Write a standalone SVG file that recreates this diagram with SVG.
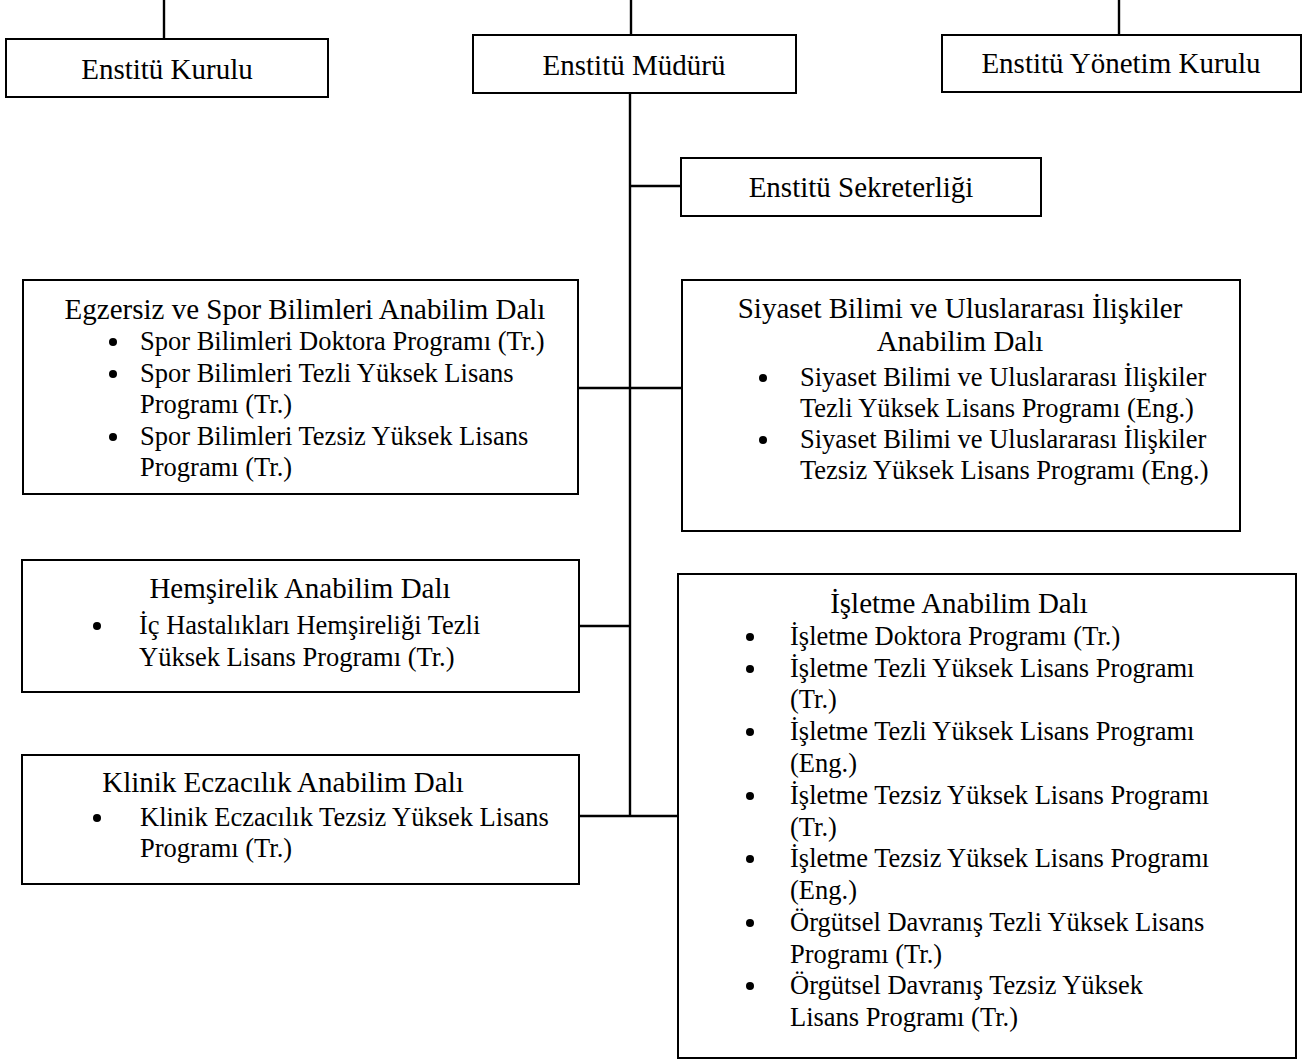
<svg xmlns="http://www.w3.org/2000/svg" width="1308" height="1062" viewBox="0 0 1308 1062">
<style>
.box{fill:#fff;stroke:#000;stroke-width:2}
.c line{stroke:#000;stroke-width:2.4}
text{font-family:"Liberation Serif","Times New Roman",serif;fill:#000}
.h{font-size:29px}
.b{font-size:26.5px}
.m{text-anchor:middle}
circle{fill:#000}
</style>
<rect width="1308" height="1062" fill="#fff"/>
<g class="c" id="connectors">
<line x1="164" y1="0" x2="164" y2="39"/>
<line x1="631" y1="0" x2="631" y2="35"/>
<line x1="1119" y1="0" x2="1119" y2="35"/>
<line x1="630" y1="93" x2="630" y2="816"/>
<line x1="630" y1="186" x2="681" y2="186"/>
<line x1="578" y1="388" x2="682" y2="388"/>
<line x1="579" y1="626" x2="630" y2="626"/>
<line x1="579" y1="816" x2="678" y2="816"/>
</g>
<g id="kurulu">
<rect class="box" x="6" y="39" width="322" height="58"/>
<text class="h m" x="167" y="79">Enstitü Kurulu</text>
</g>
<g id="mudur">
<rect class="box" x="473" y="35" width="323" height="58"/>
<text class="h m" x="634" y="75">Enstitü Müdürü</text>
</g>
<g id="yonetim">
<rect class="box" x="942" y="35" width="359" height="57"/>
<text class="h m" x="1121" y="73">Enstitü Yönetim Kurulu</text>
</g>
<g id="sekreterlik">
<rect class="box" x="681" y="158" width="360" height="58"/>
<text class="h m" x="861" y="197">Enstitü Sekreterliği</text>
</g>
<g id="egzersiz">
<rect class="box" x="23" y="280" width="555" height="214"/>
<text class="h m" x="305" y="319">Egzersiz ve Spor Bilimleri Anabilim Dalı</text>
<circle cx="113" cy="342" r="4"/><circle cx="113" cy="374" r="4"/><circle cx="113" cy="437" r="4"/>
<text class="b" x="140" y="350">Spor Bilimleri Doktora Programı (Tr.)</text>
<text class="b" x="140" y="382">Spor Bilimleri Tezli Yüksek Lisans</text>
<text class="b" x="140" y="413">Programı (Tr.)</text>
<text class="b" x="140" y="445">Spor Bilimleri Tezsiz Yüksek Lisans</text>
<text class="b" x="140" y="476">Programı (Tr.)</text>
</g>
<g id="siyaset">
<rect class="box" x="682" y="280" width="558" height="251"/>
<text class="h m" x="960" y="318">Siyaset Bilimi ve Uluslararası İlişkiler</text>
<text class="h m" x="960" y="351">Anabilim Dalı</text>
<circle cx="763" cy="378" r="4"/><circle cx="763" cy="440" r="4"/>
<text class="b" x="800" y="386">Siyaset Bilimi ve Uluslararası İlişkiler</text>
<text class="b" x="800" y="417">Tezli Yüksek Lisans Programı (Eng.)</text>
<text class="b" x="800" y="448">Siyaset Bilimi ve Uluslararası İlişkiler</text>
<text class="b" x="800" y="479">Tezsiz Yüksek Lisans Programı (Eng.)</text>
</g>
<g id="hemsirelik">
<rect class="box" x="22" y="560" width="557" height="132"/>
<text class="h m" x="300" y="598">Hemşirelik Anabilim Dalı</text>
<circle cx="97" cy="626" r="4"/>
<text class="b" x="139" y="634">İç Hastalıkları Hemşireliği Tezli</text>
<text class="b" x="139" y="666">Yüksek Lisans Programı (Tr.)</text>
</g>
<g id="klinik">
<rect class="box" x="22" y="755" width="557" height="129"/>
<text class="h m" x="283" y="792">Klinik Eczacılık Anabilim Dalı</text>
<circle cx="97" cy="818" r="4"/>
<text class="b" x="140" y="826">Klinik Eczacılık Tezsiz Yüksek Lisans</text>
<text class="b" x="140" y="857">Programı (Tr.)</text>
</g>
<g id="isletme">
<rect class="box" x="678" y="574" width="618" height="484"/>
<text class="h m" x="959" y="613">İşletme Anabilim Dalı</text>
<circle cx="750" cy="637" r="4"/><circle cx="750" cy="669" r="4"/><circle cx="750" cy="732" r="4"/><circle cx="750" cy="796" r="4"/><circle cx="750" cy="859" r="4"/><circle cx="750" cy="923" r="4"/><circle cx="750" cy="986" r="4"/>
<text class="b" x="790" y="645">İşletme Doktora Programı (Tr.)</text>
<text class="b" x="790" y="677">İşletme Tezli Yüksek Lisans Programı</text>
<text class="b" x="790" y="708">(Tr.)</text>
<text class="b" x="790" y="740">İşletme Tezli Yüksek Lisans Programı</text>
<text class="b" x="790" y="772">(Eng.)</text>
<text class="b" x="790" y="804">İşletme Tezsiz Yüksek Lisans Programı</text>
<text class="b" x="790" y="836">(Tr.)</text>
<text class="b" x="790" y="867">İşletme Tezsiz Yüksek Lisans Programı</text>
<text class="b" x="790" y="899">(Eng.)</text>
<text class="b" x="790" y="931">Örgütsel Davranış Tezli Yüksek Lisans</text>
<text class="b" x="790" y="963">Programı (Tr.)</text>
<text class="b" x="790" y="994">Örgütsel Davranış Tezsiz Yüksek</text>
<text class="b" x="790" y="1026">Lisans Programı (Tr.)</text>
</g>
</svg>
